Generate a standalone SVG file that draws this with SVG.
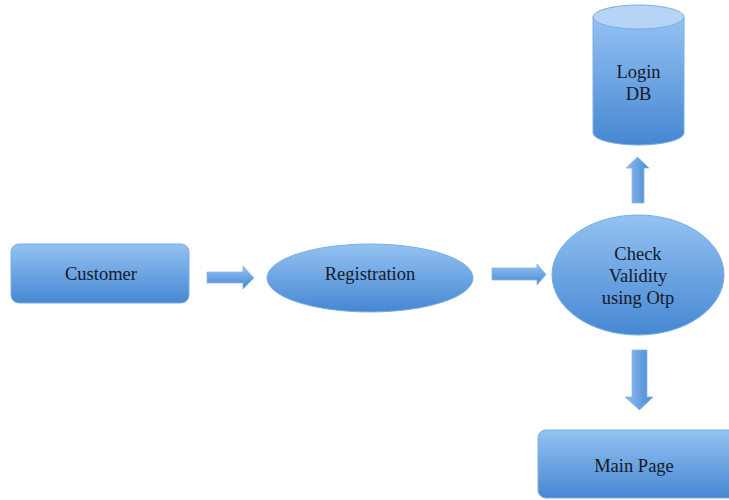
<svg xmlns="http://www.w3.org/2000/svg" width="729" height="500" viewBox="0 0 729 500">
<defs>
<linearGradient id="g" x1="0" y1="0" x2="0" y2="1">
<stop offset="0" stop-color="#94c2f2"/>
<stop offset="1" stop-color="#4687d2"/>
</linearGradient>
<linearGradient id="gh" x1="0" y1="0" x2="1" y2="0">
<stop offset="0" stop-color="#8cbcef"/>
<stop offset="1" stop-color="#4a8ad2"/>
</linearGradient>
<style>
.s{fill:url(#g);stroke:#7aaee4;stroke-width:1}
.a{fill:url(#g);stroke:#8ab8ea;stroke-width:0.8}
.av{fill:url(#gh);stroke:#8ab8ea;stroke-width:0.8}
.t{font-family:"Liberation Serif","Times New Roman",serif;font-size:18.5px;fill:#15192a;text-anchor:middle}
</style>
</defs>
<rect width="729" height="500" fill="#ffffff"/>
<g id="customer">
<rect class="s" x="11" y="244" width="178" height="59" rx="8"/>
<text class="t" x="101" y="280">Customer</text>
</g>
<g id="registration">
<ellipse class="s" cx="370" cy="278" rx="103" ry="34"/>
<text class="t" x="370" y="280">Registration</text>
</g>
<g id="check">
<ellipse class="s" cx="638" cy="275" rx="86" ry="60"/>
<text class="t" x="638" y="260">Check</text>
<text class="t" x="638" y="282">Validity</text>
<text class="t" x="638" y="304">using Otp</text>
</g>
<g id="logindb">
<path class="s" d="M593,17 L593,133 A45.5,12 0 0 0 684,133 L684,17"/>
<ellipse cx="638.5" cy="17" rx="45.5" ry="12" fill="#b6d5f6" stroke="#7aaee4" stroke-width="1"/>
<text class="t" x="638.5" y="78">Login</text>
<text class="t" x="638.5" y="100">DB</text>
</g>
<g id="mainpage">
<rect class="s" x="538" y="430" width="200" height="68" rx="8"/>
<text class="t" x="634" y="472">Main Page</text>
</g>
<g id="connectors">
<path class="a" d="M207,272 L243,272 L243,266 L254,278 L243,289 L243,283 L207,283 Z"/>
<path class="a" d="M492,268 L537,268 L537,264 L546,274.5 L537,285 L537,280 L492,280 Z"/>
<path class="av" d="M632,203 L632,168 L626,168 L637.5,157 L649,168 L644,168 L644,203 Z"/>
<path class="av" d="M632,350 L647,350 L647,397 L653,397 L639.5,410 L625,397 L632,397 Z"/>
</g>
</svg>
